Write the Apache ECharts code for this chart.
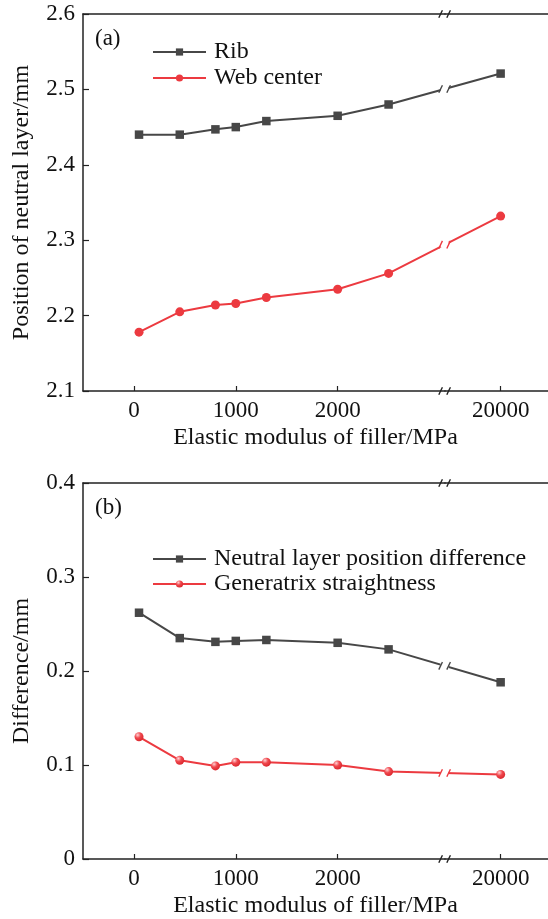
<!DOCTYPE html>
<html>
<head>
<meta charset="utf-8">
<script src="https://cdn.jsdelivr.net/npm/echarts@6/dist/echarts.min.js"></script>
<style>
  html, body { margin: 0; padding: 0; background: #fff; }
  #chart { width: 548px; height: 919px; }
</style>
</head>
<body>
<div id="chart"></div>
<script>
// Elastic modulus of the filler (MPa)
const modulus = [50, 450, 800, 1000, 1300, 2000, 2500, 20000];
// (a) neutral layer position (mm)
const ribPosition = [2.440, 2.440, 2.447, 2.450, 2.458, 2.465, 2.480, 2.521];
const webCenterPosition = [2.178, 2.205, 2.214, 2.216, 2.224, 2.235, 2.256, 2.332];
// (b) differences (mm)
const layerDifference = [0.262, 0.235, 0.231, 0.232, 0.233, 0.230, 0.223, 0.188];
const generatrixStraightness = [0.130, 0.105, 0.099, 0.103, 0.103, 0.100, 0.093, 0.090];
// axis ticks
const xTickValues = [0, 1000, 2000, 20000];
const xBreak = { start: 3050, end: 19450 };

const FONT = '"Liberation Serif", "Times New Roman", serif';
const GRAY = '#474747';
const RED = '#ec3a40';
const INK = '#111';

const pair = (xs, ys) => xs.map((x, i) => [x, ys[i]]);

const chart = echarts.init(document.getElementById('chart'), null, { renderer: 'canvas' });

function bottomXAxis(gridIndex) {
  return {
    type: 'value', gridIndex, position: 'bottom',
    min: -500, max: 20465,
    breaks: [{ start: xBreak.start, end: xBreak.end, gap: 0 }],
    breakArea: { show: false },
    name: 'Elastic modulus of filler/MPa', nameLocation: 'middle', nameGap: 35,
    nameTextStyle: { fontFamily: FONT, fontSize: 24, color: INK },
    axisLine: { show: true, onZero: false, lineStyle: { color: '#222', width: 1.5 } },
    axisTick: { show: true, inside: true, length: 5, customValues: xTickValues, lineStyle: { color: '#222', width: 1.2 } },
    axisLabel: { customValues: xTickValues, margin: 8, fontFamily: FONT, fontSize: 23, color: INK, formatter: v => String(v) },
    splitLine: { show: false }
  };
}
function topXAxis(gridIndex) {
  return {
    type: 'value', gridIndex, position: 'top',
    min: -500, max: 20465,
    breaks: [{ start: xBreak.start, end: xBreak.end, gap: 0 }],
    breakArea: { show: false },
    axisLine: { show: true, onZero: false, lineStyle: { color: '#222', width: 1.5 } },
    axisTick: { show: false }, axisLabel: { show: false }, splitLine: { show: false }
  };
}
function yAxis(gridIndex, min, max, name, fmt) {
  return {
    type: 'value', gridIndex, min, max, interval: 0.1,
    name, nameLocation: 'middle', nameGap: 49,
    nameTextStyle: { fontFamily: FONT, fontSize: 24, color: INK },
    axisLine: { show: true, onZero: false, lineStyle: { color: '#222', width: 1.5 } },
    axisTick: { show: true, inside: true, length: 6, lineStyle: { color: '#222', width: 1.2 } },
    axisLabel: { margin: 8, fontFamily: FONT, fontSize: 23, color: INK, formatter: fmt },
    splitLine: { show: false }
  };
}

const sphere = {
  type: 'radial', x: 0.35, y: 0.3, r: 0.75,
  colorStops: [{ offset: 0, color: '#ffd2d4' }, { offset: 0.45, color: '#f0484e' }, { offset: 1, color: '#d8252b' }]
};

const legendText = { fontFamily: FONT, fontSize: 24, lineHeight: 24, color: INK, padding: [0, 0, 0, 3] };

const option = {
  animation: false,
  backgroundColor: '#fff',
  grid: [
    { left: 83, right: 0, top: 14, bottom: 528 },
    { left: 83, right: 0, top: 483, bottom: 59 }
  ],
  title: [
    { text: '(a)', left: 90, top: 22, textStyle: { fontFamily: FONT, fontSize: 23, fontWeight: 'normal', color: INK } },
    { text: '(b)', left: 90, top: 491, textStyle: { fontFamily: FONT, fontSize: 23, fontWeight: 'normal', color: INK } }
  ],
  legend: [
    {
      data: ['Rib', 'Web center'], orient: 'vertical', left: 152, top: 40, padding: 0,
      itemWidth: 53, itemHeight: 9, itemGap: 2, textStyle: legendText
    },
    {
      data: ['Neutral layer position difference', 'Generatrix straightness'], orient: 'vertical', left: 152, top: 547, padding: 0,
      itemWidth: 53, itemHeight: 9, itemGap: 1, textStyle: legendText
    }
  ],
  xAxis: [bottomXAxis(0), topXAxis(0), bottomXAxis(1), topXAxis(1)],
  yAxis: [
    yAxis(0, 2.1, 2.6, 'Position of neutral layer/mm', v => v.toFixed(1)),
    yAxis(1, 0, 0.4, 'Difference/mm', v => (v === 0 ? '0' : v.toFixed(1)))
  ],
  series: [
    {
      name: 'Rib', type: 'line', xAxisIndex: 0, yAxisIndex: 0,
      data: pair(modulus, ribPosition),
      symbol: 'rect', symbolSize: 8.5, color: GRAY,
      lineStyle: { color: GRAY, width: 2 }, itemStyle: { color: GRAY }
    },
    {
      name: 'Web center', type: 'line', xAxisIndex: 0, yAxisIndex: 0,
      data: pair(modulus, webCenterPosition),
      symbol: 'circle', symbolSize: 9, color: RED,
      lineStyle: { color: RED, width: 2 }, itemStyle: { color: RED }
    },
    {
      name: 'Neutral layer position difference', type: 'line', xAxisIndex: 2, yAxisIndex: 1,
      data: pair(modulus, layerDifference),
      symbol: 'rect', symbolSize: 8.5, color: GRAY,
      lineStyle: { color: GRAY, width: 2 }, itemStyle: { color: GRAY }
    },
    {
      name: 'Generatrix straightness', type: 'line', xAxisIndex: 2, yAxisIndex: 1,
      data: pair(modulus, generatrixStraightness),
      symbol: 'circle', symbolSize: 9, color: RED,
      lineStyle: { color: RED, width: 2 }, itemStyle: { color: sphere }
    }
  ]
};

chart.setOption(option);

// Break markers "//" on the frame lines and across each curve
function slashPair(cx, cy, color, gapFill) {
  const els = [];
  if (gapFill) {
    els.push({ type: 'rect', shape: { x: cx - 4, y: cy - 3, width: 8, height: 6 }, style: { fill: '#fff' }, z: 100 });
  }
  [-4, 4].forEach(dx => {
    els.push({
      type: 'line', z: 101,
      shape: { x1: cx + dx - 1.8, y1: cy + 3.8, x2: cx + dx + 1.8, y2: cy - 3.8 },
      style: { stroke: color, lineWidth: 1.4 }
    });
  });
  return els;
}

const graphics = [];
[[0, 0, 0, 1, 2.1, 2.6], [1, 2, 2, 3, 0, 0.4]].forEach(([g, xi, s1, s2, yMin, yMax]) => {
  const bx = chart.convertToPixel({ xAxisIndex: xi }, xBreak.start);
  const yi = g;
  const top = chart.convertToPixel({ yAxisIndex: yi }, yMax);
  const bottom = chart.convertToPixel({ yAxisIndex: yi }, yMin);
  graphics.push(...slashPair(bx, top, '#222', false));
  graphics.push(...slashPair(bx, bottom, '#222', false));
  [s1, s2].forEach(si => {
    const s = option.series[si];
    const n = s.data.length;
    const p0 = chart.convertToPixel({ seriesIndex: si }, s.data[n - 2]);
    const p1 = chart.convertToPixel({ seriesIndex: si }, s.data[n - 1]);
    const t = (bx - p0[0]) / (p1[0] - p0[0]);
    const by = p0[1] + t * (p1[1] - p0[1]);
    graphics.push(...slashPair(bx, by, s.lineStyle.color, true));
  });
});
chart.setOption({ graphic: graphics });
</script>
</body>
</html>
